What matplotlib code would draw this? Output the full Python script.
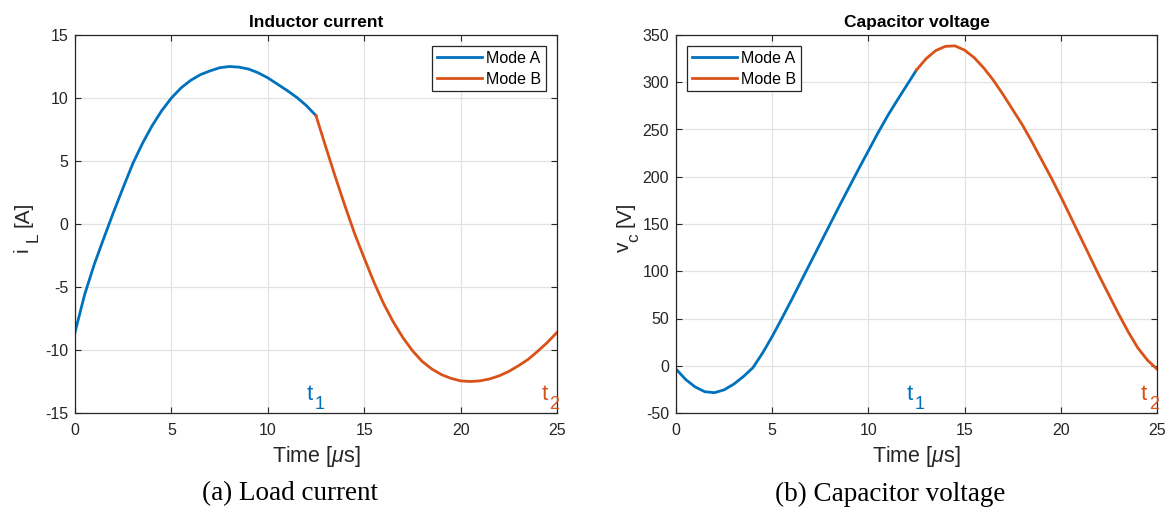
import numpy as np
import matplotlib
matplotlib.use("Agg")
import matplotlib.pyplot as plt

plt.rcParams['font.family'] = ['Liberation Sans', 'DejaVu Sans']
plt.rcParams['mathtext.fontset'] = 'custom'
plt.rcParams['mathtext.rm'] = 'Liberation Sans'
plt.rcParams['mathtext.it'] = 'Liberation Sans:italic'
plt.rcParams['axes.unicode_minus'] = False

# time grids (us)
t_a = [0, 0.5, 1, 1.5, 2, 2.5, 3, 3.5, 4, 4.5, 5, 5.5, 6, 6.5, 7, 7.5, 8,
       8.5, 9, 9.5, 10, 10.5, 11, 11.5, 12, 12.5]
t_b = [12.5, 13, 13.5, 14, 14.5, 15, 15.5, 16, 16.5, 17, 17.5, 18, 18.5,
       19, 19.5, 20, 20.5, 21, 21.5, 22, 22.5, 23, 23.5, 24, 24.5, 25]

# inductor current (A)
iL_a = [-8.6, -5.6, -3.2, -1.1, 0.95, 2.9, 4.8, 6.4, 7.8, 9.0, 10.0, 10.8,
        11.4, 11.85, 12.15, 12.4, 12.5, 12.45, 12.3, 12.0, 11.6, 11.1, 10.6,
        10.05, 9.4, 8.6]
iL_b = [8.6, 6.15, 3.75, 1.45, -0.75, -2.7, -4.6, -6.3, -7.75, -9.0, -10.05,
        -10.9, -11.5, -11.95, -12.25, -12.45, -12.5, -12.45, -12.3, -12.05,
        -11.7, -11.25, -10.75, -10.1, -9.4, -8.6]

# capacitor voltage (V)
vc_a = [-3.5, -14.5, -22.5, -27.5, -28.5, -25.5, -19.5, -11.5, -2, 13.5, 31,
        50, 69.5, 89.5, 109.5, 129.5, 149.5, 169.5, 189, 208.5, 227.5, 246.5,
        264.5, 281, 297, 313]
vc_b = [313, 325, 333.5, 338, 338.5, 334, 326, 315, 302, 287, 271, 255, 237,
        218, 199, 179, 158, 137, 116, 95, 75, 55, 36, 19, 6, -3.5]

c_a = '#0072BD'
c_b = '#D95319'
dark = '#262626'
W, H = 1173, 518

fig = plt.figure(figsize=(W/100, H/100), dpi=100)
ax1 = fig.add_axes([75/W, 105/H, 482/W, 378/H])
ax2 = fig.add_axes([676/W, 105/H, 481/W, 378/H])

def style(ax):
    ax.grid(True, color='#e3e3e3', linewidth=0.9)
    ax.set_axisbelow(True)
    ax.tick_params(direction='in', length=4, width=0.8, colors=dark,
                   labelsize=11.5, top=True, right=True)
    ax.tick_params(axis='x', pad=7)
    ax.tick_params(axis='y', pad=5)
    for s in ax.spines.values():
        s.set_color(dark)
        s.set_linewidth(0.9)
    ax.set_xlim(0, 25)
    ax.set_xticks([0, 5, 10, 15, 20, 25])
    ax.set_xlabel(r'Time [$\mu$s]', fontsize=15.5, color=dark)
    ax.xaxis.set_label_coords(0.5, -(444 - 413) / 378)

def sub_label(ax, x, y, main, sub, color):
    # MATLAB-like t_1 label: big letter, lowered subscript
    ax.text(x, y, main, color=color, fontsize=16, ha='left', va='baseline')
    ax.annotate(sub, xy=(x, y), xytext=(5.6, -6.5), textcoords='offset points',
                color=color, fontsize=13, ha='left', va='baseline')

def ylab(px, main, sub, unit):
    # rotated y label built from pieces (pixel positions)
    fig.text(px / W, 1 - 252 / H, main, rotation=90, rotation_mode='anchor',
             ha='left', va='baseline', fontsize=15, color=dark)
    fig.text((px + 9.5) / W, 1 - 242 / H, sub, rotation=90,
             rotation_mode='anchor', ha='left', va='baseline', fontsize=12.5,
             color=dark)
    fig.text((px + 1) / W, 1 - 227 / H, unit, rotation=90,
             rotation_mode='anchor', ha='left', va='baseline', fontsize=15,
             color=dark)

def legend(ax, loc):
    leg = ax.legend(loc=loc, fontsize=11.5, handlelength=2.8,
                    handletextpad=0.25, borderaxespad=0.7, fancybox=False,
                    edgecolor=dark, framealpha=1, borderpad=0.3,
                    labelspacing=0.35)
    leg.get_frame().set_linewidth(0.9)

# Inductor current
ax1.plot(t_a, iL_a, color=c_a, lw=2.0, label='Mode A')
ax1.plot(t_b, iL_b, color=c_b, lw=2.0, label='Mode B')
style(ax1)
ax1.set_ylim(-15, 15)
ax1.set_yticks(range(-15, 16, 5))
ax1.set_title('Inductor current', fontsize=12.5, fontweight='bold', pad=6)
sub_label(ax1, 12.03, -13.97, 't', '1', c_a)
sub_label(ax1, 24.2, -13.97, 't', '2', c_b)
legend(ax1, 'upper right')
ylab(28, 'i', 'L', '[A]')

# Capacitor voltage
ax2.plot(t_a, vc_a, color=c_a, lw=2.0, label='Mode A')
ax2.plot(t_b, vc_b, color=c_b, lw=2.0, label='Mode B')
style(ax2)
ax2.set_ylim(-50, 350)
ax2.set_yticks(range(-50, 351, 50))
ax2.set_title('Capacitor voltage', fontsize=12.5, fontweight='bold', pad=6)
sub_label(ax2, 12.0, -36.2, 't', '1', c_a)
sub_label(ax2, 24.17, -36.2, 't', '2', c_b)
legend(ax2, 'upper left')
ylab(629, 'v', 'c', '[V]')

# sub-captions
fig.text(290/W, 1 - 494/H, '(a) Load current', fontsize=19.5,
         family='Liberation Serif', ha='center', va='center')
fig.text(890/W, 1 - 494/H, '(b) Capacitor voltage', fontsize=19.5,
         family='Liberation Serif', ha='center', va='center')

fig.savefig('out.png', dpi=100)
